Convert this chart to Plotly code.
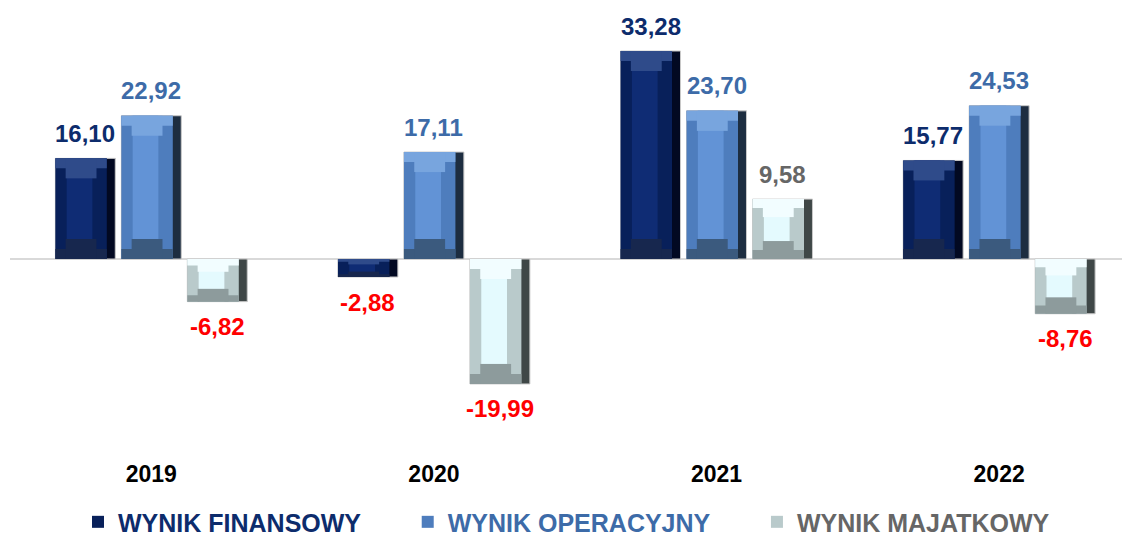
import plotly.graph_objects as go

# Dane
lata = ["2019", "2020", "2021", "2022"]
wynik_finansowy = [16.10, -2.88, 33.28, 15.77]
wynik_operacyjny = [22.92, 17.11, 23.70, 24.53]
wynik_majatkowy = [-6.82, -19.99, 9.58, -8.76]

serie = [
    ("WYNIK FINANSOWY", wynik_finansowy),
    ("WYNIK OPERACYJNY", wynik_operacyjny),
    ("WYNIK MAJATKOWY", wynik_majatkowy),
]

# kolory "fazowanych" słupków
STYLE = [
    dict(face="#08205A", mid="#0F2C74", top="#2F4B8A", bottom="#17274E",
         side="#020922", text="#0D2C6C"),
    dict(face="#4E7DBD", mid="#6293D6", top="#78A5DE", bottom="#3B5A7E",
         side="#1D2D40", text="#3D6BA8"),
    dict(face="#B9CACB", mid="#E4FAFE", top="#F2FDFF", bottom="#8D9B9C",
         side="#3F4747", text="#666666"),
]

SZER = 0.212          # szerokość słupka (jednostki osi x)
PRZES = [-0.2335, 0.0, 0.2335]
BOK = 0.03            # prawy bok
FAZA = 3.2            # wysokość fazy (jednostki osi y)

fig = go.Figure()
adnotacje = []


def warstwa(xs, y, base, szer, off, kolor, **kw):
    return go.Bar(x=xs, y=y, base=base, width=szer, offset=off,
                  marker=dict(color=kolor, line=dict(width=0)),
                  hoverinfo="skip", showlegend=False, **kw)


for k, (nazwa, wartosci) in enumerate(serie):
    st = STYLE[k]
    xs = [i + PRZES[k] for i in range(len(lata))]
    fazy = [min(FAZA, abs(v) * 0.3) for v in wartosci]
    gora = [max(v, 0) for v in wartosci]
    dol = [min(v, 0) for v in wartosci]
    w_in = SZER - BOK

    # cały słupek (ciemny prawy bok)
    fig.add_trace(go.Bar(x=xs, y=wartosci, width=SZER, offset=-SZER / 2,
                         marker=dict(color=st["side"], line=dict(color="#C8C8C8", width=1)),
                         hoverinfo="skip", showlegend=False))
    # ściana
    fig.add_trace(warstwa(xs, wartosci, None, w_in, -SZER / 2, st["face"],
                          name=nazwa))
    fig.data[-1].showlegend = True
    # rozjaśnienie środka
    fig.add_trace(warstwa(xs, wartosci, None, w_in * 0.5, -SZER / 2 + w_in * 0.22, st["mid"]))
    # górna faza (jaśniejsza) — schodkowy trapez
    fig.add_trace(warstwa(xs, [f / 2 for f in fazy], [g - f / 2 for g, f in zip(gora, fazy)],
                          w_in, -SZER / 2, st["top"]))
    fig.add_trace(warstwa(xs, fazy, [g - f for g, f in zip(gora, fazy)],
                          w_in * 0.6, -SZER / 2 + w_in * 0.2, st["top"]))
    # dolna faza (ciemniejsza)
    fig.add_trace(warstwa(xs, [f / 2 for f in fazy], dol, w_in, -SZER / 2, st["bottom"]))
    fig.add_trace(warstwa(xs, fazy, dol, w_in * 0.6, -SZER / 2 + w_in * 0.2, st["bottom"]))

    for x, v in zip(xs, wartosci):
        adnotacje.append(dict(
            x=x, y=v, xref="x", yref="y",
            text=f"<b>{v:.2f}</b>".replace(".", ","),
            showarrow=False, yanchor="middle",
            yshift=25 if v >= 0 else -25,
            font=dict(size=24, color=st["text"] if v >= 0 else "#FF0000"),
        ))

fig.update_layout(
    width=1122, height=530,
    barmode="overlay",
    plot_bgcolor="white", paper_bgcolor="white",
    font=dict(family="Liberation Sans, Arial, sans-serif"),
    margin=dict(l=2, r=0, t=0, b=98, autoexpand=False),
    xaxis=dict(
        range=[-0.5, 3.463],
        tickvals=list(range(len(lata))),
        ticktext=[f"<b>{r}</b>" for r in lata],
        tickfont=dict(size=23, color="black"),
        showgrid=False, zeroline=False, showline=False,
        ticks="", ticklabelstandoff=18,
    ),
    yaxis=dict(
        range=[-28.96, 40.16],
        showgrid=False, showticklabels=False,
        zeroline=True, zerolinecolor="#D9D9D9", zerolinewidth=2,
    ),
    legend=dict(
        orientation="h", x=0.0607, xanchor="left",
        y=-0.19, yanchor="middle",
        font=dict(size=25),
        itemwidth=30,
        traceorder="normal",
    ),
    annotations=adnotacje,
)

# kolory tekstu legendy + odstęp między pozycjami
for tr in fig.data:
    if tr.showlegend:
        idx = [s[0] for s in serie].index(tr.name)
        odstep = "\u00a0" * 6 if idx < len(serie) - 1 else ""
        tr.name = f"<b><span style='color:{STYLE[idx]['text']}'>{tr.name}</span></b>{odstep}"

fig.write_html("out.html")
